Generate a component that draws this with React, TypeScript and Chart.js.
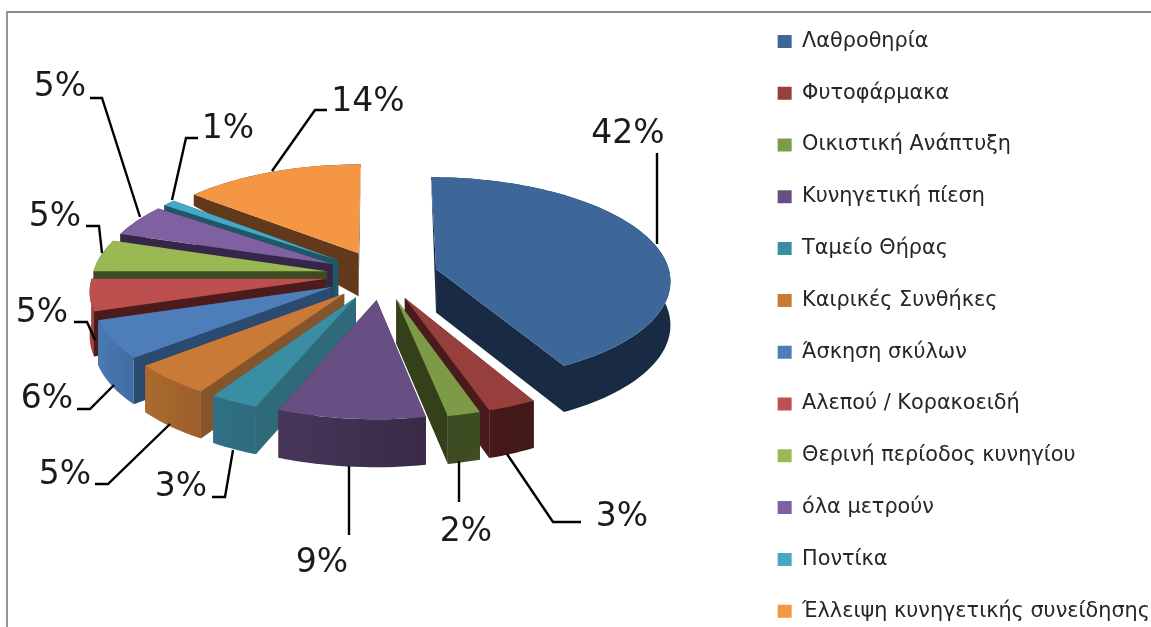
import React, { useEffect, useRef } from "react";
import { Chart, ArcElement, PieController, registerables } from "chart.js";

const categories = [
  "Λαθροθηρία", "Φυτοφάρμακα", "Οικιστική Ανάπτυξη", "Κυνηγετική πίεση", "Ταμείο Θήρας",
  "Καιρικές Συνθήκες", "Άσκηση σκύλων", "Αλεπού / Κορακοειδή", "Θερινή περίοδος κυνηγίου",
  "όλα μετρούν", "Ποντίκα", "Έλλειψη κυνηγετικής συνείδησης",
];
const shares = [42, 3, 2, 9, 3, 5, 6, 5, 5, 5, 1, 14];

const topColors = ["#3c6798", "#963f3c", "#7d9b47", "#684f83", "#3a8ea4", "#c97a37", "#4d7eb9", "#bd504e", "#9ab955", "#7f60a1", "#45a8c4", "#f59644"];
const wallColors = ["#182a44", "#491b1a", "#33401a", "#3a2a47", "#2e6a7a", "#84552a", "#2a4a70", "#4c1c1c", "#3e4a22", "#36264a", "#1e5766", "#63391c"];
const rimStart = ["#1c3049", "#42191a", "#3f4d23", "#3a2a47", "#2f6a7e", "#9c5f2a", "#3f6ca3", "#9c3f3d", "#3e4a22", "#36264a", "#1e5766", "#63391c"];
const rimEnd = ["#182a44", "#46191a", "#3b4a20", "#473659", "#2f7186", "#ab6b30", "#4a7ab3", "#a04543", "#3e4a22", "#36264a", "#1e5766", "#63391c"];

// Label placement: text centre, then the elbow leader from text side to the slice.
const labelCentres = [[628, 134], [622, 517], [466, 532], [322, 563], [181, 487], [65, 475], [47, 399], [42, 313], [55, 217], [60, 87], [228, 129], [368, 102]];
const leaders = [
  [[657, 153], [657, 244]],
  [[581, 522], [553, 522], [507, 454]],
  [[459, 502], [459, 461]],
  [[349, 535], [349, 466]],
  [[212, 497], [225, 497], [233, 450]],
  [[95, 484], [108, 484], [170, 424]],
  [[77, 409], [90, 409], [114, 385]],
  [[74, 322], [87, 322], [95, 340]],
  [[86, 226], [99, 226], [102, 253]],
  [[90, 98], [102, 98], [140, 217]],
  [[198, 138], [186, 138], [172, 200]],
  [[327, 110], [315, 110], [272, 171]],
];

const CX = 382, CY = 275, RX = 234, RY = 102, EXPLODE = 0.24, PERSP = 0.1;

function project(u: number, v: number) {
  const s = 1 / (1 - PERSP * v);
  return [CX + RX * u * s, CY + RY * v * s];
}
function depthAt(y: number) {
  const d = 10 + (y - 193) * 0.56;
  if (d < 3) return 3;
  if (d < 43) return d;
  return 43 + (y - 252) * 0.03;
}
function under(p: number[]) {
  return [p[0], p[1] + depthAt(p[1])];
}
function fillPoly(ctx: CanvasRenderingContext2D, pts: number[][], fill: any) {
  ctx.beginPath();
  pts.forEach((p, i) => (i ? ctx.lineTo(p[0], p[1]) : ctx.moveTo(p[0], p[1])));
  ctx.closePath();
  ctx.fillStyle = fill;
  ctx.fill();
}

class Arc3D extends ArcElement {
  static id = "arc3d";
  sliceIndex = 0;
  draw(ctx: CanvasRenderingContext2D) {
    const { startAngle, endAngle } = (this as any).getProps(["startAngle", "endAngle"]);
    const i = this.sliceIndex;
    const mid = (startAngle + endAngle) / 2;
    const ou = EXPLODE * Math.cos(mid), ov = EXPLODE * Math.sin(mid);
    const apex = project(ou, ov);
    const steps = Math.max(6, Math.ceil((endAngle - startAngle) / 0.03));
    const rim: number[][] = [];
    for (let k = 0; k <= steps; k++) {
      const a = startAngle + ((endAngle - startAngle) * k) / steps;
      rim.push(project(ou + Math.cos(a), ov + Math.sin(a)));
    }
    const first = rim[0], last = rim[rim.length - 1];
    fillPoly(ctx, [apex, first, under(first), under(apex)], wallColors[i]);
    fillPoly(ctx, [apex, last, under(last), under(apex)], wallColors[i]);
    const g = ctx.createLinearGradient(first[0], 0, last[0] === first[0] ? first[0] + 1 : last[0], 0);
    g.addColorStop(0, rimStart[i]);
    g.addColorStop(1, rimEnd[i]);
    fillPoly(ctx, [...rim, ...rim.slice().reverse().map(under)], g);
    fillPoly(ctx, [apex, ...rim], (this as any).options.backgroundColor);
  }
}

class Pie3D extends PieController {
  static id = "pie3d";
  static defaults = { dataElementType: "arc3d" };
  draw() {
    const elements = (this as any)._cachedMeta.data as any[];
    const order = elements.map((el, i) => {
      el.sliceIndex = i;
      const { startAngle, endAngle } = el.getProps(["startAngle", "endAngle"]);
      return { el, v: Math.sin((startAngle + endAngle) / 2) };
    });
    order.sort((a, b) => a.v - b.v);
    order.forEach(({ el }) => el.draw((this as any)._ctx));
  }
}

Chart.register(...registerables, Arc3D as any, Pie3D as any);

const percentLabels = {
  id: "percentLabels",
  afterDatasetsDraw(chart: any) {
    const ctx = chart.ctx as CanvasRenderingContext2D;
    ctx.save();
    ctx.strokeStyle = "#000";
    ctx.lineWidth = 2.4;
    ctx.lineJoin = "miter";
    leaders.forEach((pts) => {
      ctx.beginPath();
      pts.forEach((p, i) => (i ? ctx.lineTo(p[0], p[1]) : ctx.moveTo(p[0], p[1])));
      ctx.stroke();
    });
    ctx.fillStyle = "#1a1a1a";
    ctx.font = '33px "DejaVu Sans"';
    ctx.textAlign = "center";
    ctx.textBaseline = "middle";
    chart.data.datasets[0].data.forEach((v: number, i: number) => {
      ctx.fillText(`${v}%`, labelCentres[i][0], labelCentres[i][1]);
    });
    ctx.restore();
  },
};

export default function App() {
  const ref = useRef<HTMLCanvasElement>(null);
  useEffect(() => {
    document.body.style.margin = "0";
    const chart = new Chart(ref.current as HTMLCanvasElement, {
      type: "pie3d" as any,
      data: {
        labels: categories,
        datasets: [{ data: shares, backgroundColor: topColors, borderWidth: 0, clip: false as any }],
      },
      options: {
        animation: false,
        responsive: false,
        events: [],
        layout: { padding: 0 },
        plugins: {
          tooltip: { enabled: false },
          legend: {
            display: true,
            position: "right",
            align: "start",
            labels: {
              boxWidth: 14,
              boxHeight: 13,
              padding: 31,
              color: "#262626",
              font: { family: '"DejaVu Sans"', size: 20.8, lineHeight: 1 },
            },
          },
        },
      } as any,
      plugins: [percentLabels],
    });
    return () => chart.destroy();
  }, []);
  return (
    <div style={{ position: "fixed", left: 0, top: 0, width: 1151, height: 627, overflow: "hidden", background: "#fff" }}>
      <div style={{ position: "absolute", left: 6, top: 11, right: 0, bottom: 0, borderLeft: "2px solid #959595", borderTop: "2px solid #8c8c8c" }} />
      <canvas ref={ref} width={1160} height={680} style={{ position: "absolute", left: 0, top: 0, width: 1160, height: 680 }} />
    </div>
  );
}
